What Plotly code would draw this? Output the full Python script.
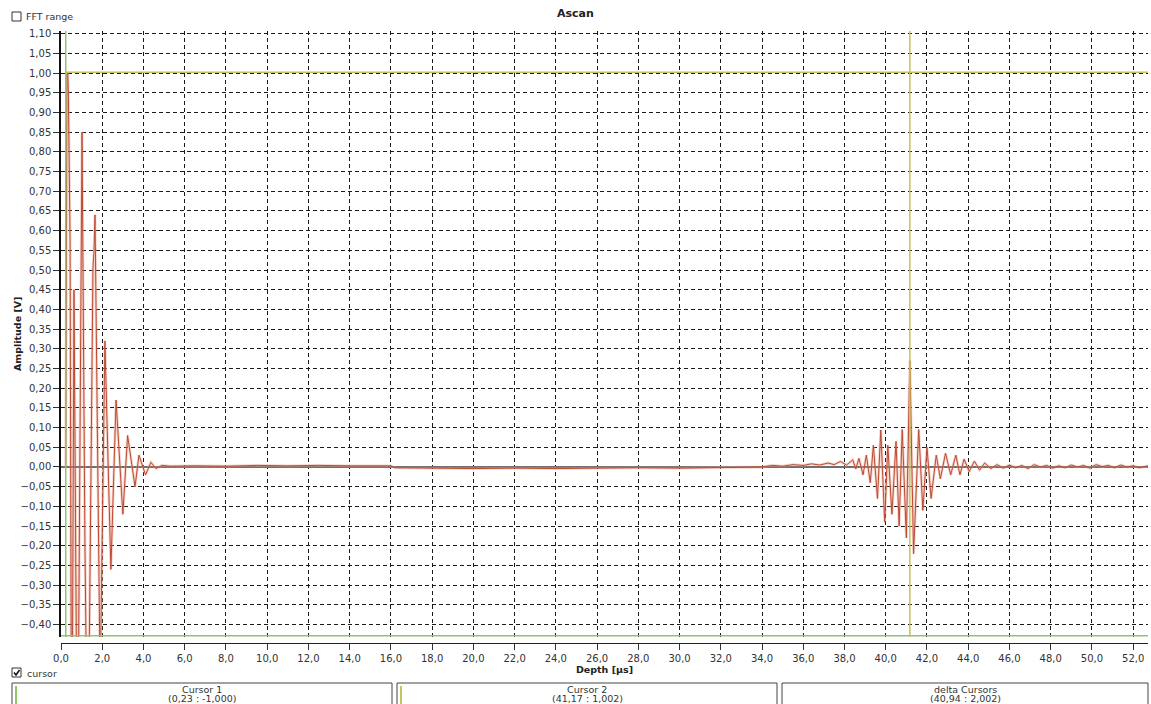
import plotly.graph_objects as go

# ---------------- data ----------------
# initial pulse (main bang), depth in µs, amplitude in V
pulse_t = [0.23, 0.29, 0.33, 0.36, 0.44, 0.52, 0.63, 0.80, 1.02, 1.16, 1.30, 1.55, 1.60, 1.65,
           1.90, 2.13, 2.42, 2.67, 3.00, 3.23, 3.59, 3.78, 4.10, 4.36, 4.60, 4.90, 5.30]
pulse_a = [0.000, 1.000, 1.000, 0.940, 0.580, -0.950, 0.450, -0.900, 0.850, -0.190, -0.850, 0.505, 0.546, 0.640,
           -0.550, 0.320, -0.260, 0.170, -0.120, 0.080, -0.050, 0.030, -0.020, 0.012, -0.004, 0.004, 0.002]

# quiet baseline between pulse and echo
base_t = [6.5, 8.0, 9.5, 11.0, 12.5, 14.0, 15.5, 16.0, 16.2, 18.0, 20.0, 22.0, 24.0, 26.0, 28.0, 30.0, 32.0, 33.5]
base_a = [0.003, 0.002, 0.004, 0.003, 0.004, 0.003, 0.004, 0.003, -0.002, -0.003, -0.004, -0.003, -0.004,
          -0.003, -0.002, -0.003, -0.002, 0.000]

# back-wall echo
echo_t = [34.0, 34.5, 35.0, 35.5, 36.0, 36.4, 36.8, 37.2, 37.5, 37.8, 38.1, 38.4, 38.55, 38.7, 38.9, 39.06,
          39.25, 39.4, 39.6, 39.76, 39.95, 40.1, 40.3, 40.5, 40.65, 40.8, 41.0, 41.17, 41.35, 41.6, 41.8,
          42.0, 42.2, 42.45, 42.65, 42.9, 43.15, 43.4, 43.6, 43.8, 44.05, 44.3, 44.55, 44.8, 45.1, 45.4]
echo_a = [0.000, 0.004, 0.002, 0.006, 0.004, 0.008, 0.005, 0.010, 0.006, 0.014, 0.005, 0.018, -0.005, 0.022,
          -0.020, 0.030, -0.040, 0.055, -0.080, 0.094, -0.140, 0.055, -0.120, 0.065, -0.150, 0.095, -0.180,
          0.270, -0.220, 0.095, -0.110, 0.050, -0.080, 0.030, -0.030, 0.035, -0.020, 0.030, -0.020, 0.020,
          -0.012, 0.015, -0.008, 0.010, -0.004, 0.006]

# noisy tail
tail_t = [45.7, 46.0, 46.3, 46.6, 46.9, 47.2, 47.5, 47.8, 48.1, 48.4, 48.7, 49.0, 49.3, 49.6, 49.9, 50.2,
          50.5, 50.8, 51.1, 51.4, 51.7, 52.0, 52.3, 52.72]
tail_a = [-0.003, 0.005, -0.002, 0.004, -0.004, 0.006, 0.000, 0.004, -0.003, 0.003, -0.002, 0.005, 0.000,
          0.004, -0.003, 0.006, 0.001, 0.004, -0.002, 0.005, 0.000, 0.003, -0.002, 0.003]

# cursors (depth µs, amplitude V)
cursor1 = (0.23, -1.000)
cursor2 = (41.17, 1.002)

x_ticks = [0, 2, 4, 6, 8, 10, 12, 14, 16, 18, 20, 22, 24, 26, 28, 30, 32, 34, 36, 38, 40, 42, 44, 46, 48, 50, 52]
y_ticks = [-0.40, -0.35, -0.30, -0.25, -0.20, -0.15, -0.10, -0.05, 0.00, 0.05, 0.10, 0.15, 0.20, 0.25,
           0.30, 0.35, 0.40, 0.45, 0.50, 0.55, 0.60, 0.65, 0.70, 0.75, 0.80, 0.85, 0.90, 0.95, 1.00, 1.05, 1.10]

x_range = [0, 52.72]
y_range = [-0.4315, 1.1066]

# ---------------- figure ----------------
W, H = 1151, 704
ML, MR, MT, MB = 61, 3, 31, 61
PW, PH = W - ML - MR, H - MT - MB


def px(xp):
    return (xp - ML) / PW


def py(yp):
    return (H - MB - yp) / PH


t_all = pulse_t + base_t + echo_t + tail_t
a_all = pulse_a + base_a + echo_a + tail_a

FONT = "DejaVu Sans"
GREEN = "#8cc76e"
OLIVE = "#c4c45a"

fig = go.Figure()
fig.add_trace(go.Scatter(x=t_all, y=a_all, mode="lines",
                         line=dict(color="rgba(232,160,140,0.45)", width=2.8),
                         hoverinfo="skip", showlegend=False))
fig.add_trace(go.Scatter(x=t_all, y=a_all, mode="lines",
                         line=dict(color="#bd4a33", width=1),
                         name="Ascan", showlegend=False))

shapes = []
# cursor 1: vertical line and (clamped) horizontal line at bottom
shapes.append(dict(type="line", xref="x", yref="y domain", x0=cursor1[0], x1=cursor1[0], y0=0, y1=1,
                   line=dict(color=GREEN, width=1.5), layer="above"))
shapes.append(dict(type="line", xref="x domain", yref="y domain", x0=0, x1=1, y0=0.002, y1=0.002,
                   line=dict(color=GREEN, width=1.5), layer="above"))
# cursor 2
shapes.append(dict(type="line", xref="x", yref="y domain", x0=cursor2[0], x1=cursor2[0], y0=0, y1=1,
                   line=dict(color=OLIVE, width=1.5), layer="above"))
shapes.append(dict(type="line", xref="x", yref="y", x0=cursor1[0], x1=x_range[1], y0=cursor2[1], y1=cursor2[1],
                   line=dict(color=OLIVE, width=1.5), layer="above"))

# checkboxes
for (bx, by, checked) in [(12, 12, False), (12, 668, True)]:
    shapes.append(dict(type="rect", xref="paper", yref="paper",
                       x0=px(bx), x1=px(bx + 9), y0=py(by), y1=py(by + 9),
                       line=dict(color="#333333", width=1), fillcolor="white"))
    if checked:
        path = "M {} {} L {} {} L {} {}".format(px(bx + 2), py(by + 4.5), px(bx + 4), py(by + 7),
                                                 px(bx + 7.5), py(by + 2))
        shapes.append(dict(type="path", xref="paper", yref="paper", path=path,
                           line=dict(color="#111111", width=1.6)))

# cursor info boxes
boxes = [(12, 392, "Cursor 1", cursor1, GREEN),
         (397, 777, "Cursor 2", cursor2, OLIVE),
         (782, 1148, "delta Cursors", (cursor2[0] - cursor1[0], cursor2[1] - cursor1[1]), None)]


def fmt(v):
    return "({:.2f} : {:.3f})".format(v[0], v[1]).replace(".", ",")


annotations = []
for (x0, x1, label, val, col) in boxes:
    shapes.append(dict(type="rect", xref="paper", yref="paper",
                       x0=px(x0), x1=px(x1), y0=py(683), y1=py(712),
                       line=dict(color="#444444", width=1), fillcolor="white"))
    if col:
        shapes.append(dict(type="line", xref="paper", yref="paper",
                           x0=px(x0 + 4), x1=px(x0 + 4), y0=py(686), y1=py(712),
                           line=dict(color=col, width=2)))
    annotations.append(dict(xref="paper", yref="paper", x=px((x0 + x1) / 2), y=py(689.5), text=label,
                            showarrow=False, font=dict(family=FONT, size=9.5, color="#333333"),
                            xanchor="center", yanchor="middle"))
    annotations.append(dict(xref="paper", yref="paper", x=px((x0 + x1) / 2), y=py(698.5), text=fmt(val),
                            showarrow=False, font=dict(family=FONT, size=9.5, color="#333333"),
                            xanchor="center", yanchor="middle"))

annotations.append(dict(xref="paper", yref="paper", x=px(24), y=py(16), text="FFT range",
                        showarrow=False, font=dict(family=FONT, size=9.5, color="#333333"),
                        xanchor="left", yanchor="middle"))
annotations.append(dict(xref="paper", yref="paper", x=px(25), y=py(673), text="cursor",
                        showarrow=False, font=dict(family=FONT, size=9.5, color="#333333"),
                        xanchor="left", yanchor="middle"))
annotations.append(dict(xref="paper", yref="paper", x=px(575), y=py(13), text="<b>Ascan</b>",
                        showarrow=False, font=dict(family=FONT, size=11, color="#222222"),
                        xanchor="center", yanchor="middle"))
annotations.append(dict(xref="paper", yref="paper", x=px(17), y=py(334), text="<b>Amplitude [V]</b>",
                        textangle=-90, showarrow=False, font=dict(family=FONT, size=9.5, color="#222222"),
                        xanchor="center", yanchor="middle"))

fig.update_layout(
    width=W, height=H,
    margin=dict(l=ML, r=MR, t=MT, b=MB, pad=0, autoexpand=False),
    paper_bgcolor="white", plot_bgcolor="white",
    separators=", ",
    font=dict(family=FONT, size=10, color="#333333"),
    shapes=shapes, annotations=annotations,
    showlegend=False,
    xaxis=dict(range=x_range, tickvals=x_ticks, tickformat=".1f", automargin=False,
               anchor="free", position=0, domain=[0, 1],
               showgrid=True, gridcolor="#1a1a1a", gridwidth=1, griddash="4px,3px",
               showline=True, linecolor="#222222", linewidth=1,
               ticks="outside", ticklen=6, tickcolor="#333333",
               zeroline=False,
               title=dict(text="<b>Depth [µs]</b>", font=dict(family=FONT, size=9.5, color="#222222"),
                          standoff=3)),
    yaxis=dict(range=y_range, tickvals=y_ticks, tickformat=".2f", automargin=False,
               domain=[6 / PH, 1],
               showgrid=True, gridcolor="#1a1a1a", gridwidth=1, griddash="4px,3px",
               showline=True, linecolor="#111111", linewidth=1.5,
               ticks="outside", ticklen=6, tickcolor="#333333",
               zeroline=True, zerolinecolor="#6e6e6e", zerolinewidth=1.5),
)

fig.write_html("out.html", config={"displayModeBar": False},
               post_script="document.body.style.margin='0';document.body.style.overflow='hidden';")
